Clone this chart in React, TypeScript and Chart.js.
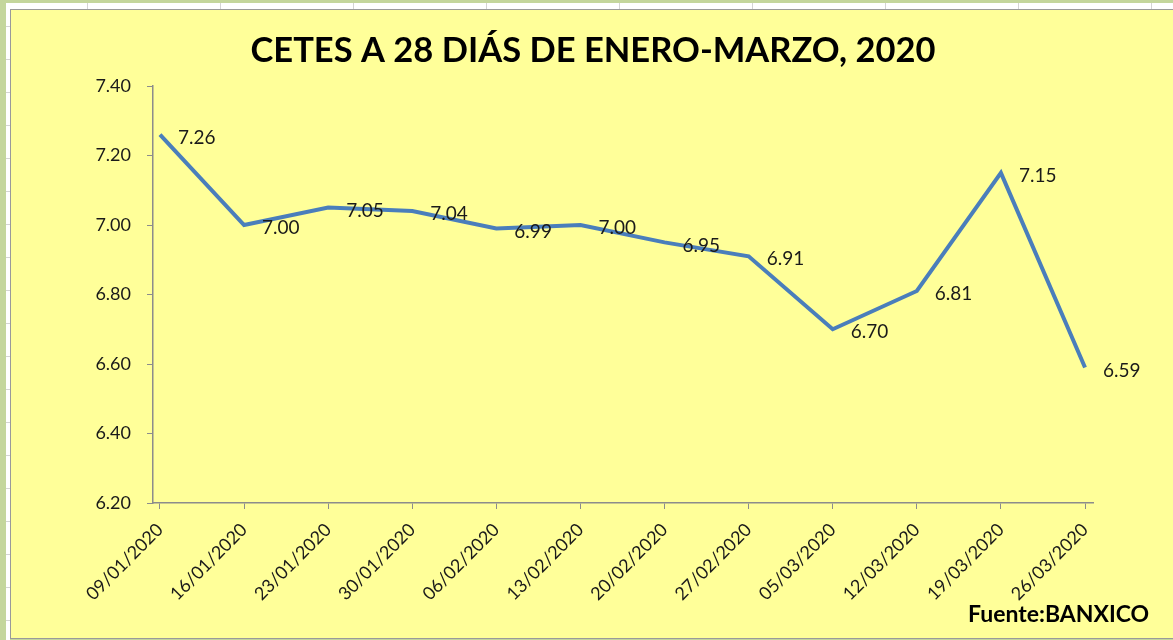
import { useEffect, useRef } from 'react';
import { Chart, registerables } from 'chart.js';

Chart.register(...registerables);

const fechas = [
  '09/01/2020', '16/01/2020', '23/01/2020', '30/01/2020', '06/02/2020', '13/02/2020',
  '20/02/2020', '27/02/2020', '05/03/2020', '12/03/2020', '19/03/2020', '26/03/2020',
];
const tasas = [7.26, 7.0, 7.05, 7.04, 6.99, 7.0, 6.95, 6.91, 6.7, 6.81, 7.15, 6.59];
const yTicks = [6.2, 6.4, 6.6, 6.8, 7.0, 7.2, 7.4];
const titulo = 'CETES A 28 DIÁS DE ENERO-MARZO, 2020';
const fuente = 'Fuente:BANXICO';

const FONT = 'Lato, "Open Sans", sans-serif';

const decorPlugin = {
  id: 'decor',
  beforeDraw(chart: any) {
    const { ctx, width, height } = chart;
    ctx.save();
    ctx.fillStyle = '#c4d69c';
    ctx.fillRect(0, 0, width, height);
    ctx.fillStyle = '#ffffff';
    ctx.fillRect(6, 3, width - 6, 7);
    ctx.fillRect(6, 3, 4, height - 3);
    ctx.strokeStyle = '#d4d4d4';
    ctx.lineWidth = 1;
    for (let x = 87; x < width; x += 133) {
      ctx.beginPath();
      ctx.moveTo(x + 0.5, 3);
      ctx.lineTo(x + 0.5, 10);
      ctx.stroke();
    }
    for (let y = 26; y < height; y += 33) {
      ctx.beginPath();
      ctx.moveTo(6, y + 0.5);
      ctx.lineTo(10, y + 0.5);
      ctx.stroke();
    }
    ctx.fillStyle = '#ffff99';
    ctx.fillRect(10, 10, width - 10, height - 12);
    ctx.strokeStyle = '#9a9a9a';
    ctx.strokeRect(10.5, 9.5, width, height - 11);
    ctx.restore();
  },
  afterDatasetsDraw(chart: any) {
    const { ctx } = chart;
    const meta = chart.getDatasetMeta(0);
    ctx.save();
    ctx.font = `19px ${FONT}`;
    ctx.fillStyle = '#1a1a1a';
    ctx.textAlign = 'left';
    ctx.textBaseline = 'middle';
    meta.data.forEach((pt: any, i: number) => {
      ctx.fillText(tasas[i].toFixed(2), pt.x + 18, pt.y + 3);
    });
    ctx.restore();
  },
  afterDraw(chart: any) {
    const { ctx } = chart;
    ctx.save();
    ctx.fillStyle = '#000000';
    ctx.font = `bold 34.5px ${FONT}`;
    ctx.textAlign = 'center';
    ctx.textBaseline = 'middle';
    ctx.fillText(titulo, 593, 51);
    ctx.font = `bold 23px ${FONT}`;
    ctx.textAlign = 'left';
    ctx.textBaseline = 'alphabetic';
    ctx.fillText(fuente, 968, 622);
    ctx.restore();
  },
};

export default function App() {
  const ref = useRef<HTMLCanvasElement | null>(null);

  useEffect(() => {
    document.body.style.margin = '0';
    if (!ref.current) return;
    const chart = new Chart(ref.current, {
      type: 'line',
      data: {
        datasets: [
          {
            data: tasas.map((v, i) => ({ x: i, y: v })),
            borderColor: '#4a7ebb',
            borderWidth: 4,
            pointRadius: 0,
            tension: 0,
            fill: false,
          },
        ],
      },
      options: {
        responsive: false,
        animation: false,
        devicePixelRatio: 1,
        layout: { padding: { top: 86, right: 80, bottom: 0, left: 0 } },
        plugins: {
          legend: { display: false },
          tooltip: { enabled: false },
          title: { display: false },
        },
        scales: {
          x: {
            type: 'linear',
            min: -0.083,
            max: 11.095,
            afterBuildTicks: (scale: any) => {
              scale.ticks = fechas.map((_, i) => ({ value: i }));
            },
            afterFit: (scale: any) => {
              scale.height = 137;
            },
            grid: {
              display: true,
              drawOnChartArea: false,
              drawTicks: true,
              tickLength: 6,
              color: '#8c8c8c',
            },
            border: { display: true, color: '#8c8c8c', width: 1.5 },
            ticks: {
              autoSkip: false,
              maxRotation: 45,
              minRotation: 45,
              padding: 10,
              color: '#1a1a1a',
              font: { family: FONT, size: 18 },
              callback: (v: any) => fechas[Math.round(Number(v))] ?? '',
            },
          },
          y: {
            type: 'linear',
            min: 6.2,
            max: 7.4,
            afterBuildTicks: (scale: any) => {
              scale.ticks = yTicks.map((v) => ({ value: v }));
            },
            afterFit: (scale: any) => {
              scale.width = 153;
            },
            grid: {
              display: true,
              drawOnChartArea: false,
              drawTicks: true,
              tickLength: 6,
              color: '#8c8c8c',
            },
            border: { display: true, color: '#8c8c8c', width: 1.5 },
            ticks: {
              padding: 16,
              color: '#1a1a1a',
              font: { family: FONT, size: 18 },
              callback: (v: any) => Number(v).toFixed(2),
            },
          },
        },
      },
      plugins: [decorPlugin],
    } as any);
    return () => chart.destroy();
  }, []);

  return (
    <div style={{ width: 1173, height: 640 }}>
      <canvas ref={ref} width={1173} height={640} style={{ display: 'block' }} />
    </div>
  );
}
